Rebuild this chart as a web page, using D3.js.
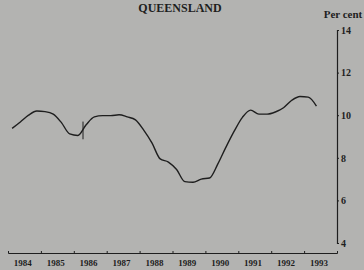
<!DOCTYPE html>
<html>
<head>
<meta charset="utf-8">
<script src="https://cdn.jsdelivr.net/npm/d3@7"></script>
<style>
  body { margin: 0; background: #b3b3b1; }
  svg { display: block; }
</style>
</head>
<body>
<div id="chart"></div>
<script>
// quarterly observations, 1984 Q1 to 1993 Q2 (per cent)
const quarters = [
  "1984Q1","1984Q2","1984Q3","1984Q4","1985Q1","1985Q2","1985Q3","1985Q4",
  "1986Q1","1986Q2","1986Q3","1986Q4","1987Q1","1987Q2","1987Q3","1987Q4",
  "1988Q1","1988Q2","1988Q3","1988Q4","1989Q1","1989Q2","1989Q3","1989Q4",
  "1990Q1","1990Q2","1990Q3","1990Q4","1991Q1","1991Q2","1991Q3","1991Q4",
  "1992Q1","1992Q2","1992Q3","1992Q4","1993Q1","1993Q2"
];
const values = [
  9.38, 9.68, 10.0, 10.2, 10.17, 10.05, 9.65, 9.12,
  9.05, 9.55, 9.92, 9.98, 9.98, 10.02, 9.92, 9.78,
  9.3, 8.7, 7.95, 7.8, 7.45, 6.88, 6.85, 7.0,
  7.05, 7.7, 8.5, 9.25, 9.9, 10.24, 10.05, 10.05,
  10.15, 10.35, 10.7, 10.88, 10.85, 10.43
];
const yearLabels = ["1984","1985","1986","1987","1988","1989","1990","1991","1992","1993"];
const yTicks = [4, 6, 8, 10, 12, 14];
// series break marker
const breakAt = { date: 1986.28, low: 8.87, high: 9.7 };

const width = 364, height = 270;
const margin = { top: 30, right: 27, bottom: 17, left: 8 };

const toYear = q => +q.slice(0, 4) + (+q.slice(5) - 1) / 4 + 0.125;
const data = quarters.map((q, i) => ({ t: toYear(q), v: values[i] }));

const svg = d3.select("#chart").append("svg")
  .attr("width", width).attr("height", height);

const x = d3.scaleLinear()
  .domain([1984, 1994])
  .range([margin.left, width - margin.right]);

const y = d3.scaleLinear()
  .domain([4, 14])
  .range([height - 27, margin.top]);

const ink = "#1e1e1e";
const serif = "'Liberation Serif', 'DejaVu Serif', serif";

// title
svg.append("text")
  .attr("x", 180).attr("y", 12)
  .attr("text-anchor", "middle")
  .attr("font-family", serif).attr("font-weight", "bold")
  .attr("font-size", 12).attr("fill", ink)
  .text("QUEENSLAND");

svg.append("text")
  .attr("x", 343).attr("y", 18)
  .attr("text-anchor", "middle")
  .attr("font-family", serif).attr("font-weight", "bold")
  .attr("font-size", 11).attr("fill", ink)
  .text("Per cent");

// right axis
const yAxis = svg.append("g")
  .attr("transform", `translate(${x(1994)},0)`)
  .call(d3.axisRight(y).tickValues(yTicks).tickSize(2).tickPadding(2));
yAxis.select(".domain").attr("stroke", ink).attr("stroke-width", 1.2);
yAxis.selectAll(".tick line").attr("stroke", ink);
yAxis.selectAll("text")
  .attr("font-family", serif).attr("font-weight", "bold")
  .attr("font-size", 10).attr("fill", ink);

// bottom axis
const xAxis = svg.append("g")
  .attr("transform", `translate(0,${height - 17})`)
  .call(d3.axisBottom(x).ticks(10).tickSize(-2).tickFormat(""));
xAxis.select(".domain").attr("stroke", ink).attr("stroke-width", 1);
xAxis.selectAll(".tick line").attr("stroke", ink);

svg.append("g")
  .selectAll("text")
  .data(yearLabels)
  .join("text")
    .attr("x", d => x(+d + 0.45))
    .attr("y", height - 4)
    .attr("text-anchor", "middle")
    .attr("font-family", serif).attr("font-weight", "bold")
    .attr("font-size", 9).attr("fill", ink)
    .text(d => d);

// series
const line = d3.line()
  .x(d => x(d.t))
  .y(d => y(d.v))
  .curve(d3.curveMonotoneX);

svg.append("path")
  .datum(data)
  .attr("fill", "none")
  .attr("stroke", ink)
  .attr("stroke-width", 1.4)
  .attr("d", line);

svg.append("line")
  .attr("x1", x(breakAt.date)).attr("x2", x(breakAt.date))
  .attr("y1", y(breakAt.high)).attr("y2", y(breakAt.low))
  .attr("stroke", ink).attr("stroke-width", 1);
</script>
</body>
</html>
